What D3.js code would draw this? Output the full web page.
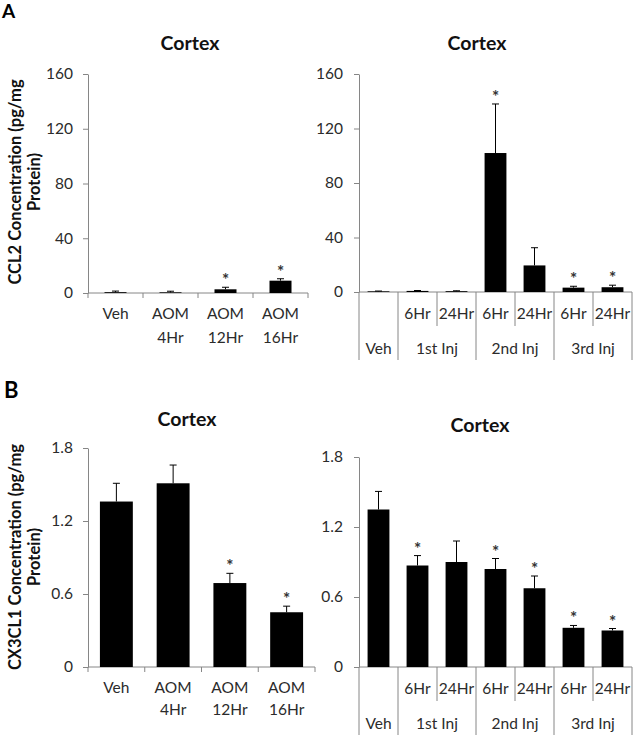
<!DOCTYPE html>
<html><head><meta charset="utf-8">
<script src="https://cdn.jsdelivr.net/npm/d3@7"></script>
<style>
body{margin:0;background:#fff}
svg{display:block}
text{font-family:Lato,"Open Sans",sans-serif}
</style>
</head><body>
<svg id="c" width="633" height="736"></svg>
<script>
// ---------- data ----------
const timeCats = [["Veh"], ["AOM", "4Hr"], ["AOM", "12Hr"], ["AOM", "16Hr"]];
const injHours = ["", "6Hr", "24Hr", "6Hr", "24Hr", "6Hr", "24Hr"];
const injGroups = ["Veh", "1st Inj", "2nd Inj", "3rd Inj"];
const injGroupSizes = [1, 2, 2, 2];

const ccl2Time = [0.6, 0.5, 2.7, 9.0];
const ccl2TimeErr = [0.8, 0.8, 1.5, 1.4];
const ccl2TimeSig = [0, 0, 1, 1];
const ccl2Inj = [0.5, 0.8, 0.6, 102, 19.5, 3.2, 3.5];
const ccl2InjErr = [0.2, 0.3, 0.3, 36, 13, 1.0, 1.5];
const ccl2InjSig = [0, 0, 0, 1, 0, 1, 1];
const ccl2Ticks = [0, 40, 80, 120, 160];

const cx3Time = [1.36, 1.51, 0.69, 0.45];
const cx3TimeErr = [0.15, 0.15, 0.08, 0.05];
const cx3TimeSig = [0, 0, 1, 1];
const cx3Inj = [1.35, 0.87, 0.90, 0.84, 0.675, 0.336, 0.313];
const cx3InjErr = [0.155, 0.085, 0.18, 0.09, 0.105, 0.02, 0.017];
const cx3InjSig = [0, 1, 0, 1, 1, 1, 1];
const cx3Ticks = [0, 0.6, 1.2, 1.8];

const panelTitle = "Cortex";
const ccl2Label = ["CCL2 Concentration (pg/mg", "Protein)"];
const cx3Label = ["CX3CL1 Concentration (pg/mg", "Protein)"];

// ---------- drawing ----------
const svg = d3.select("#c");
const AX = "#868686", TXT = "#2b2b2b";
const FS = 15.5;

function panel(o) {
  const g = svg.append("g");
  const n = o.values.length;
  const x = d3.scaleBand().domain(d3.range(n)).range([o.x0, o.x1]).padding(0);
  const y = d3.scaleLinear().domain([0, o.ticks[o.ticks.length - 1]]).range([o.y0, o.y1]);

  // title
  g.append("text").attr("x", o.tx).attr("y", o.ty).attr("text-anchor", "middle")
    .attr("font-size", 19.5).attr("font-weight", "bold").attr("fill", "#111").text(panelTitle);

  // y axis
  const ya = g.append("g").attr("transform", `translate(${o.x0},0)`)
    .call(d3.axisLeft(y).tickValues(o.ticks).tickSize(5).tickSizeOuter(0).tickPadding(o.pad)
      .tickFormat(d => d === 0 ? "0" : (o.dec ? d.toFixed(1) : d)));
  ya.select(".domain").attr("stroke", AX);
  ya.selectAll(".tick line").attr("stroke", AX);
  ya.selectAll(".tick text").attr("font-size", FS).attr("fill", TXT).attr("font-family", "Lato");

  // x axis baseline
  g.append("line").attr("x1", o.x0).attr("x2", o.x1).attr("y1", o.y0).attr("y2", o.y0).attr("stroke", AX);

  const bw = x.bandwidth() * o.barFrac;
  const cx = i => x(i) + x.bandwidth() / 2;

  // bars
  g.selectAll("rect.bar").data(o.values).join("rect")
    .attr("x", (d, i) => cx(i) - bw / 2).attr("width", bw)
    .attr("y", d => y(d)).attr("height", d => o.y0 - y(d)).attr("fill", "#000");

  // error bars
  o.values.forEach((v, i) => {
    const top = y(v + o.err[i]);
    g.append("line").attr("x1", cx(i)).attr("x2", cx(i)).attr("y1", y(v)).attr("y2", top).attr("stroke", "#000");
    g.append("line").attr("x1", cx(i) - 3.5).attr("x2", cx(i) + 3.5).attr("y1", top).attr("y2", top).attr("stroke", "#000");
    if (o.sig[i]) {
      g.append("text").attr("x", cx(i)).attr("y", top - 1).attr("text-anchor", "middle")
        .attr("font-size", 17).attr("font-weight", "bold").attr("fill", "#333").text("*");
    }
  });

  if (o.cats) {
    for (let i = 0; i <= n; i++) {
      const xx = i < n ? x(i) : o.x1;
      g.append("line").attr("x1", xx).attr("x2", xx).attr("y1", o.y0).attr("y2", o.y0 + 5).attr("stroke", AX);
    }
    o.cats.forEach((c, i) => {
      c.forEach((s, k) => {
        g.append("text").attr("x", cx(i)).attr("y", o.y0 + 26 + k * o.lh).attr("text-anchor", "middle")
          .attr("font-size", FS).attr("fill", TXT).text(s);
      });
    });
  } else {
    let start = 0;
    const longIdx = [0];
    injGroupSizes.forEach(s => { start += s; longIdx.push(start); });
    for (let i = 0; i <= n; i++) {
      const xx = i < n ? x(i) : o.x1;
      const long = longIdx.includes(i);
      g.append("line").attr("x1", xx).attr("x2", xx).attr("y1", o.y0).attr("y2", o.y0 + (long ? 68 : 34)).attr("stroke", AX);
    }
    injHours.forEach((s, i) => {
      g.append("text").attr("x", cx(i)).attr("y", o.y0 + 27).attr("text-anchor", "middle")
        .attr("font-size", FS).attr("fill", TXT).text(s);
    });
    let s0 = 0;
    injGroups.forEach((gname, k) => {
      const s1 = s0 + injGroupSizes[k];
      const mx = (x(s0) + (s1 < n ? x(s1) : o.x1)) / 2;
      g.append("text").attr("x", mx).attr("y", o.y0 + 62).attr("text-anchor", "middle")
        .attr("font-size", FS).attr("fill", TXT).text(gname);
      s0 = s1;
    });
  }
}

function yTitle(lines, cy) {
  lines.forEach((s, k) => {
    svg.append("text").attr("transform", `translate(${21 + k * 19},${cy}) rotate(-90)`)
      .attr("text-anchor", "middle").attr("font-size", 16.5).attr("font-weight", "bold")
      .attr("fill", "#111").text(s);
  });
}

// letters
svg.append("text").attr("x", 2).attr("y", 18).attr("font-size", 19).attr("font-weight", "bold").attr("font-family", "Liberation Sans").text("A");
svg.append("text").attr("x", 4).attr("y", 398).attr("font-size", 22).attr("font-weight", "bold").attr("font-family", "Liberation Sans").text("B");

panel({x0: 88, x1: 308, y0: 293, y1: 74, ticks: ccl2Ticks, values: ccl2Time, err: ccl2TimeErr, sig: ccl2TimeSig,
  cats: timeCats, barFrac: 0.4, lh: 24, tx: 190, ty: 50, pad: 10});
panel({x0: 359, x1: 632, y0: 292, y1: 74, ticks: ccl2Ticks, values: ccl2Inj, err: ccl2InjErr, sig: ccl2InjSig,
  barFrac: 0.56, tx: 477, ty: 50, pad: 11});
panel({x0: 88, x1: 315, y0: 667, y1: 448, ticks: cx3Ticks, values: cx3Time, err: cx3TimeErr, sig: cx3TimeSig,
  cats: timeCats, barFrac: 0.58, lh: 22, tx: 187, ty: 426, dec: true, pad: 10});
panel({x0: 359, x1: 632, y0: 667, y1: 457, ticks: cx3Ticks, values: cx3Inj, err: cx3InjErr, sig: cx3InjSig,
  barFrac: 0.56, tx: 480, ty: 432, dec: true, pad: 11});

yTitle(ccl2Label, 182);
yTitle(cx3Label, 557);
</script>
</body></html>
